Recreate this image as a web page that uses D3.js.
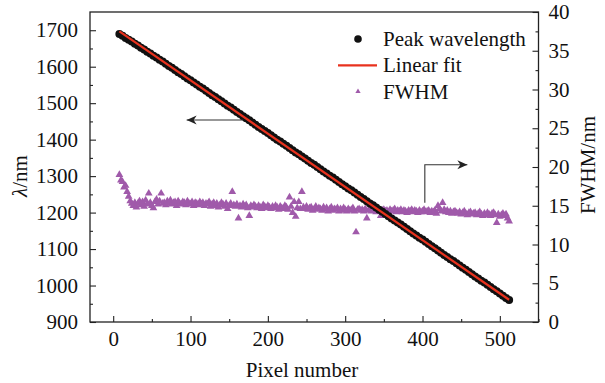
<!DOCTYPE html>
<html>
<head>
<meta charset="utf-8">
<script src="https://cdn.jsdelivr.net/npm/d3@7"></script>
<style>
  body { margin: 0; background: #fff; }
  text { font-family: "Liberation Serif", "Times New Roman", serif; fill: #111; }
</style>
</head>
<body>
<div id="svgcontainer"></div>
<script>
// peak wavelength, one reading every 4 pixels from pixel 8
const peakPixels = d3.range(8, 513, 4);
const peakWavelength = [
  1690, 1685, 1679, 1674, 1669, 1663, 1658, 1652, 1647, 1641, 1636, 1630, 1625, 1619, 1614, 1608,
  1602, 1597, 1591, 1585, 1580, 1574, 1568, 1563, 1557, 1551, 1545, 1540, 1534, 1528, 1522, 1517,
  1511, 1505, 1499, 1493, 1488, 1482, 1476, 1470, 1464, 1459, 1453, 1447, 1441, 1435, 1429, 1424,
  1418, 1412, 1406, 1400, 1395, 1389, 1383, 1377, 1371, 1365, 1360, 1354, 1348, 1342, 1336, 1331,
  1325, 1319, 1313, 1307, 1301, 1296, 1290, 1284, 1278, 1272, 1266, 1261, 1255, 1249, 1243, 1237,
  1231, 1225, 1220, 1214, 1208, 1202, 1196, 1190, 1184, 1178, 1173, 1167, 1161, 1155, 1149, 1143,
  1137, 1131, 1126, 1120, 1114, 1108, 1102, 1096, 1090, 1084, 1078, 1072, 1067, 1061, 1055, 1049,
  1043, 1037, 1031, 1025, 1019, 1013, 1008, 1002, 996, 990, 984, 978, 972, 966, 960
];

// linear fit end points
const fitPixels = [8, 512];
const fitWavelength = [1697, 961];

// FWHM, one reading every 2 pixels from pixel 8
const fwhmPixels = d3.range(8, 513, 2);
const fwhmValues = [
  19.0, 18.3, 18.1, 17.4, 17.6, 16.8, 16.2, 15.6, 15.3, 15.0,
  15.4, 14.8, 15.3, 15.6, 15.1, 15.5, 14.9, 15.7, 15.2, 16.6,
  15.4, 15.0, 14.7, 15.5, 15.8, 15.2, 15.6, 16.6, 15.3, 15.4,
  15.1, 15.6, 15.3, 15.7, 15.2, 15.4, 15.5, 15.0, 15.6, 15.3,
  15.2, 15.5, 15.4, 15.1, 15.6, 15.3, 15.2, 15.5, 15.0, 15.4,
  15.3, 15.1, 15.5, 15.2, 15.4, 15.0, 15.3, 15.2, 15.5, 14.9,
  15.2, 15.4, 15.0, 15.3, 14.8, 15.1, 15.4, 15.2, 14.9, 15.3,
  14.6, 15.0, 15.3, 16.8, 15.1, 14.9, 15.2, 13.4, 15.0, 14.8,
  15.2, 14.9, 15.1, 14.7, 13.7, 15.0, 14.8, 15.1, 14.9, 14.7,
  15.0, 14.8, 14.6, 15.1, 14.9, 14.7, 15.0, 14.8, 14.6, 14.9,
  14.7, 15.0, 14.8, 14.5, 14.9, 14.7, 14.6, 15.0, 14.8, 14.5,
  16.1, 14.9, 14.1, 15.5, 13.6, 14.7, 15.5, 14.6, 16.8, 14.8,
  14.6, 14.9, 14.5, 14.7, 14.8, 14.4, 14.6, 14.9, 14.5, 14.7,
  14.6, 14.4, 14.8, 14.5, 14.7, 14.3, 14.6, 14.8, 14.4, 14.6,
  14.5, 14.7, 14.3, 14.6, 14.4, 14.7, 14.5, 14.3, 14.6, 14.4,
  14.5, 14.7, 14.3, 11.6, 14.5, 14.6, 14.4, 14.5, 14.3, 14.6,
  13.4, 14.4, 14.5, 14.3, 14.6, 14.4, 14.2, 14.5, 14.3, 13.7,
  14.4, 14.5, 14.3, 14.4, 14.2, 14.5, 14.3, 14.4, 14.6, 14.2,
  14.4, 14.3, 14.5, 14.2, 14.4, 14.3, 14.1, 14.4, 14.3, 14.5,
  14.2, 14.4, 14.3, 14.1, 14.4, 14.2, 14.3, 14.5, 14.2, 14.3,
  14.4, 14.1, 14.3, 14.2, 14.4, 14.0, 15.0, 14.6, 14.3, 15.4,
  14.5, 14.2, 14.4, 14.1, 14.3, 14.0, 14.2, 14.3, 14.1, 14.0,
  14.2, 13.9, 14.1, 14.3, 14.0, 13.8, 14.1, 14.2, 13.9, 14.0,
  14.1, 13.8, 14.0, 14.2, 13.9, 13.7, 14.0, 13.8, 14.1, 13.9,
  13.7, 14.0, 14.1, 13.8, 12.8, 13.9, 13.6, 13.8, 14.0, 13.7,
  13.9, 13.4, 13.0
];

const xTicks = [0, 100, 200, 300, 400, 500];
const xMinor = [50, 150, 250, 350, 450, 550];
const yLeftTicks = [900, 1000, 1100, 1200, 1300, 1400, 1500, 1600, 1700];
const yLeftMinor = [950, 1050, 1150, 1250, 1350, 1450, 1550, 1650];
const yRightTicks = [0, 5, 10, 15, 20, 25, 30, 35, 40];
const yRightMinor = [2.5, 7.5, 12.5, 17.5, 22.5, 27.5, 32.5, 37.5];

const legendLabels = ["Peak wavelength", "Linear fit", "FWHM"];

// annotation arrows, in data units
const leftArrow = [[168, 1454], [95, 1454]];          // left axis units
const rightArrow = [[403, 15.4], [403, 20.3], [458, 20.3]]; // right axis units

const W = 605, H = 383;
const m = {left: 90, right: 538.5, top: 12, bottom: 322};

const svg = d3.select("#svgcontainer")
    .append("svg")
    .attr("width", W)
    .attr("height", H);

const x = d3.scaleLinear().domain([-30, 550]).range([m.left, m.right]);
const yL = d3.scaleLinear().domain([900, 1750]).range([m.bottom, m.top]);
const yR = d3.scaleLinear().domain([0, 40]).range([m.bottom, m.top]);

const FS = 21;
const serif = '"Liberation Serif", "Times New Roman", serif';
const purple = "#a05aaa";
const red = "#e8321e";

// data marks, clipped to the frame
svg.append("clipPath").attr("id", "clip")
  .append("rect").attr("x", m.left).attr("y", m.top)
  .attr("width", m.right - m.left).attr("height", m.bottom - m.top);

const plot = svg.append("g").attr("clip-path", "url(#clip)");

const tri = d3.symbol().type(d3.symbolTriangle).size(26);

plot.append("g").selectAll("path")
  .data(fwhmPixels.map((p, i) => [p, fwhmValues[i]]))
  .join("path")
  .attr("d", tri)
  .attr("transform", d => `translate(${x(d[0])},${yR(d[1])})`)
  .attr("fill", purple);

plot.append("g").selectAll("circle")
  .data(peakPixels.map((p, i) => [p, peakWavelength[i]]))
  .join("circle")
  .attr("cx", d => x(d[0]))
  .attr("cy", d => yL(d[1]))
  .attr("r", 4)
  .attr("fill", "#111");

plot.append("path")
  .datum(fitPixels.map((p, i) => [p, fitWavelength[i]]))
  .attr("d", d3.line().x(d => x(d[0])).y(d => yL(d[1])))
  .attr("fill", "none")
  .attr("stroke", red)
  .attr("stroke-width", 2.2);

// axes
function axisWithMinor(gen, scale, ticks, minor, tr, pad) {
  let g = svg.append("g").attr("transform", tr);
  g.call(gen(scale).tickValues(ticks).tickSize(-6).tickPadding(pad)
    .tickFormat(d3.format("d")));
  g.call(gg => gg.select(".domain").remove());
  g.attr("font-family", serif);
  g.selectAll("text").attr("font-size", FS).style("font-family", serif).attr("fill", "#111");
  g.selectAll("line").attr("stroke", "#222").attr("stroke-width", 1.1);
  let g2 = svg.append("g").attr("transform", tr);
  g2.call(gen(scale).tickValues(minor.filter(v => {
      let d = scale.domain(); return v >= d[0] && v <= d[1];
    })).tickSize(-3).tickFormat(() => ""));
  g2.select(".domain").remove();
  g2.selectAll("line").attr("stroke", "#222").attr("stroke-width", 1.1);
  return g;
}

axisWithMinor(d3.axisBottom, x, xTicks, xMinor, `translate(0,${m.bottom})`, 9);
axisWithMinor(d3.axisLeft, yL, yLeftTicks, yLeftMinor, `translate(${m.left},0)`, 12);
axisWithMinor(d3.axisRight, yR, yRightTicks, yRightMinor, `translate(${m.right},0)`, 10);

// frame
svg.append("rect")
  .attr("x", m.left).attr("y", m.top)
  .attr("width", m.right - m.left).attr("height", m.bottom - m.top)
  .attr("fill", "none").attr("stroke", "#222").attr("stroke-width", 1.3);

// axis titles
svg.append("text")
  .attr("x", 302).attr("y", 377)
  .attr("text-anchor", "middle").attr("font-size", FS)
  .text("Pixel number");

let lt = svg.append("text")
  .attr("transform", "translate(27,176) rotate(-90)")
  .attr("text-anchor", "middle").attr("font-size", FS);
lt.append("tspan").attr("font-style", "italic").text("λ");
lt.append("tspan").text("/nm");

svg.append("text")
  .attr("transform", "translate(595,165) rotate(-90)")
  .attr("text-anchor", "middle").attr("font-size", FS)
  .text("FWHM/nm");

// arrows
svg.append("defs").append("marker")
  .attr("id", "head").attr("viewBox", "-10 -5 11 10")
  .attr("refX", 0).attr("refY", 0)
  .attr("markerWidth", 11).attr("markerHeight", 10)
  .attr("markerUnits", "userSpaceOnUse")
  .attr("orient", "auto")
  .append("path").attr("d", "M0,0 L-10,-4.5 L-7,0 L-10,4.5 Z").attr("fill", "#222");

svg.append("path")
  .datum(leftArrow)
  .attr("d", d3.line().x(d => x(d[0])).y(d => yL(d[1])))
  .attr("fill", "none").attr("stroke", "#333").attr("stroke-width", 1.1)
  .attr("marker-end", "url(#head)");

svg.append("path")
  .datum(rightArrow)
  .attr("d", d3.line().x(d => x(d[0])).y(d => yR(d[1])))
  .attr("fill", "none").attr("stroke", "#333").attr("stroke-width", 1.1)
  .attr("marker-end", "url(#head)");

// legend
const lg = svg.append("g").attr("transform", "translate(358,39)");
const rowH = 26.3;
lg.selectAll("text")
  .data(legendLabels)
  .join("text")
  .attr("x", 25)
  .attr("y", (d, i) => i * rowH)
  .attr("dy", "0.33em")
  .attr("font-size", FS)
  .text(d => d);
lg.append("circle").attr("cx", 0).attr("cy", 0).attr("r", 3.8).attr("fill", "#111");
lg.append("line").attr("x1", -20).attr("x2", 19).attr("y1", rowH).attr("y2", rowH)
  .attr("stroke", red).attr("stroke-width", 2.2);
lg.append("path").attr("d", d3.symbol().type(d3.symbolTriangle).size(12))
  .attr("transform", `translate(0,${2 * rowH})`).attr("fill", purple);
</script>
</body>
</html>
